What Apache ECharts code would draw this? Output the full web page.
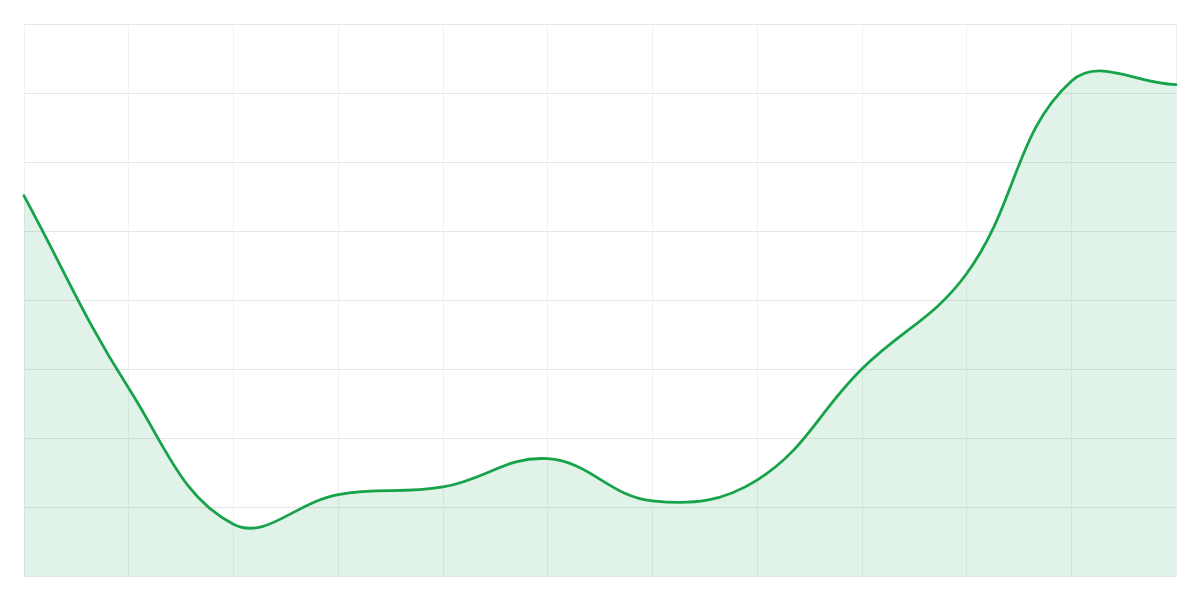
<!DOCTYPE html>
<html>
<head>
<meta charset="utf-8">
<script src="https://cdn.jsdelivr.net/npm/echarts@6/dist/echarts.min.js"></script>
<style>
html,body{margin:0;padding:0;background:#fff;}
#chart{width:1200px;height:600px;}
</style>
</head>
<body>
<div id="chart"></div>
<script>
const categories = ['Jan','Feb','Mar','Apr','May','Jun','Jul','Aug','Sep','Oct','Nov','Dec'];
const values = [55.1, 27.2, 7.5, 11.8, 12.9, 17.0, 10.9, 13.9, 30.0, 43.8, 71.7, 71.2];
const yMin = 0, yMax = 80, yInterval = 10;
const tension = 0.4;

function buildPaths(api) {
  const pts = values.map((v, i) => api.coord([i, v]));
  const n = pts.length;
  const cps = pts.map((p, i) => {
    const prev = pts[Math.max(0, i - 1)];
    const next = pts[Math.min(n - 1, i + 1)];
    const d01 = Math.hypot(p[0] - prev[0], p[1] - prev[1]);
    const d12 = Math.hypot(next[0] - p[0], next[1] - p[1]);
    const tot = d01 + d12 || 1;
    const fa = tension * d01 / tot;
    const fb = tension * d12 / tot;
    return {
      inX: p[0] - fa * (next[0] - prev[0]),
      inY: p[1] - fa * (next[1] - prev[1]),
      outX: p[0] + fb * (next[0] - prev[0]),
      outY: p[1] + fb * (next[1] - prev[1])
    };
  });
  let d = 'M' + pts[0][0] + ' ' + pts[0][1];
  for (let i = 0; i < n - 1; i++) {
    d += ' C' + cps[i].outX + ' ' + cps[i].outY + ' ' + cps[i + 1].inX + ' ' + cps[i + 1].inY + ' ' + pts[i + 1][0] + ' ' + pts[i + 1][1];
  }
  const base = api.coord([0, yMin])[1];
  const area = d + ' L' + pts[n - 1][0] + ' ' + base + ' L' + pts[0][0] + ' ' + base + ' Z';
  return {line: d, area: area};
}

const chart = echarts.init(document.getElementById('chart'));
chart.setOption({
  animation: false,
  backgroundColor: '#ffffff',
  grid: {left: 24, right: 24, top: 24, bottom: 24, containLabel: false},
  xAxis: {
    type: 'category',
    data: categories,
    boundaryGap: false,
    axisLine: {show: false},
    axisTick: {show: false},
    axisLabel: {show: false},
    splitLine: {show: true, lineStyle: {color: '#f0f0f0', width: 1}}
  },
  yAxis: {
    type: 'value',
    min: yMin, max: yMax, interval: yInterval,
    axisLine: {show: false},
    axisTick: {show: false},
    axisLabel: {show: false},
    splitLine: {show: true, lineStyle: {color: '#e6e6e6', width: 1}}
  },
  series: [{
    type: 'custom',
    data: values.map((v, i) => [i, v]),
    encode: {x: 0, y: 1},
    clip: false,
    renderItem: function (params, api) {
      if (params.dataIndex !== 0) return null;
      const p = buildPaths(api);
      return {
        type: 'group',
        children: [
          {type: 'path', shape: {pathData: p.area}, style: {fill: 'rgba(22,163,74,0.13)', stroke: null}},
          {type: 'path', shape: {pathData: p.line}, style: {fill: null, stroke: '#16a34a', lineWidth: 2.8, lineJoin: 'round', lineCap: 'round'}}
        ]
      };
    }
  }]
});
</script>
</body>
</html>
